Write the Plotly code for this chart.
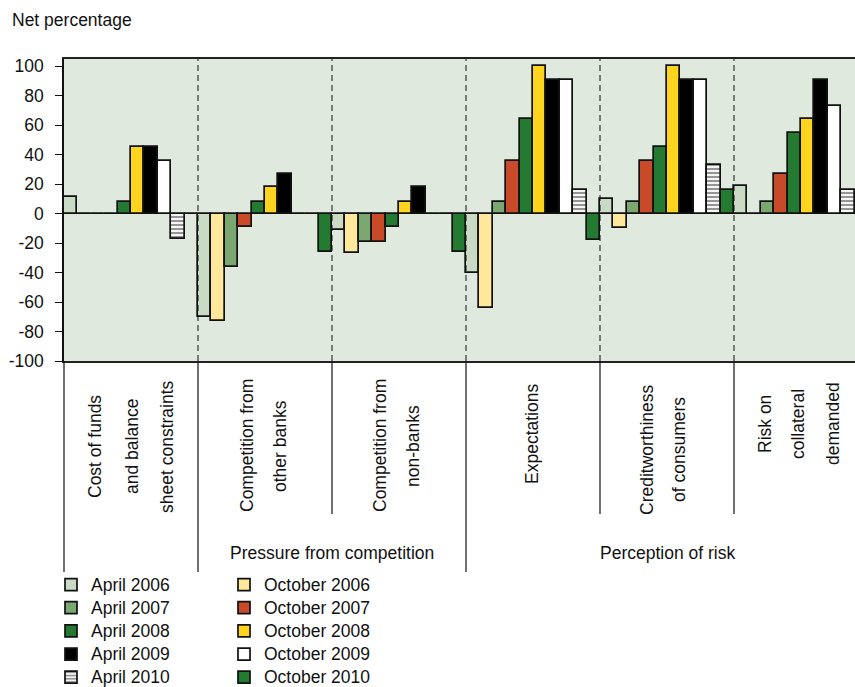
import plotly.graph_objects as go

# Survey factors (one group of bars per factor)
categories = [
    "Cost of funds and balance sheet constraints",
    "Competition from other banks",
    "Competition from non-banks",
    "Expectations",
    "Creditworthiness of consumers",
    "Risk on collateral demanded",
]

# Net percentages per survey round
apr_2006 = [11, -70, -11, -40, 10, 19]
oct_2006 = [0, -73, -27, -64, -10, 0]
apr_2007 = [0, -36, -19, 8, 8, 8]
oct_2007 = [0, -9, -19, 36, 36, 27]
apr_2008 = [8, 8, -9, 64, 45, 55]
oct_2008 = [45, 18, 8, 100, 100, 64]
apr_2009 = [45, 27, 18, 91, 91, 91]
oct_2009 = [36, 0, 0, 91, 91, 73]
apr_2010 = [-17, 0, 0, 16, 33, 16]
oct_2010 = [0, -26, -26, -18, 16, None]

y_ticks = [100, 80, 60, 40, 20, 0, -20, -40, -60, -80, -100]
y_tick_labels = ["100", "80", "60", "40", "20", "0",
                 "-20", "-40", "-60", "-80", "-100"]

label_lines = [
    ["Cost of funds", "and balance", "sheet constraints"],
    ["Competition from", "other banks"],
    ["Competition from", "non-banks"],
    ["Expectations"],
    ["Creditworthiness", "of consumers"],
    ["Risk on", "collateral", "demanded"],
]
group_titles = ["Pressure from competition", "Perception of risk"]

# ---- layout geometry (pixels) ----
W, H = 855, 687
ML, MT, MB = 64, 59, 326
PLOT_H = H - MT - MB
GROUP_PX = 134
X_RANGE = [-0.5, -0.5 + (W - ML) / GROUP_PX]


def py(pix):
    """pixel row -> paper y"""
    return (H - MB - pix) / PLOT_H


FONT = "Liberation Sans, Arial, sans-serif"
FS = 17.5
INK = "#111111"
DARK_GREEN = "#247A31"

series = [
    ("April 2006", apr_2006, dict(color="#C9DBC4"), "legend"),
    ("October 2006", oct_2006, dict(color="#FFE79B"), "legend2"),
    ("April 2007", apr_2007, dict(color="#7BA871"), "legend"),
    ("October 2007", oct_2007, dict(color="#C84A28"), "legend2"),
    ("April 2008", apr_2008, dict(color=DARK_GREEN), "legend"),
    ("October 2008", oct_2008, dict(color="#FFD41F"), "legend2"),
    ("April 2009", apr_2009, dict(color="#000000"), "legend"),
    ("October 2009", oct_2009, dict(color="#FFFFFF"), "legend2"),
    ("April 2010", apr_2010,
     dict(color="#FFFFFF",
          pattern=dict(shape="-", fgcolor="#2A2A2A", bgcolor="#FFFFFF",
                       size=4, solidity=0.55)), "legend"),
    ("October 2010", oct_2010, dict(color=DARK_GREEN), "legend2"),
]

fig = go.Figure()
for name, vals, marker, leg in series:
    m = dict(marker)
    m["line"] = dict(color=INK, width=1.7)
    fig.add_trace(go.Bar(
        x=categories, y=vals, marker=m, legend=leg,
        name=f'<span style="font-size:{FS}px">{name}</span>'))

shapes = []
# dashed separators inside the plot
for b in [0.5, 1.5, 2.5, 3.5, 4.5]:
    shapes.append(dict(type="line", xref="x", yref="paper", x0=b, x1=b,
                       y0=0, y1=1, line=dict(color=INK, width=1,
                                             dash="6px,4px"), layer="above"))
# solid separators in the label area below the plot
shapes.append(dict(type="line", xref="paper", yref="paper", x0=0, x1=0,
                   y0=py(572), y1=0, line=dict(color=INK, width=1.2)))
for b, bottom in [(0.5, 572), (1.5, 514), (2.5, 572), (3.5, 514), (4.5, 514)]:
    shapes.append(dict(type="line", xref="x", yref="paper", x0=b, x1=b,
                       y0=py(bottom), y1=0,
                       line=dict(color=INK, width=1.2)))

annotations = []
line_shift = [[-36, 1, 36], [-18, 15], [-19, 14], [-1], [-20, 12], [-36, -3, 32]]
label_center = [447, 446, 446, 434, 450, 424]
for gi, lines in enumerate(label_lines):
    for li, txt in enumerate(lines):
        annotations.append(dict(
            text=txt, x=gi, xref="x", y=py(label_center[gi]), yref="paper",
            xshift=line_shift[gi][li], textangle=-90, showarrow=False,
            xanchor="center", yanchor="middle",
            font=dict(family=FONT, size=FS, color=INK)))
annotations.append(dict(text=group_titles[0], x=1.5, xref="x", y=py(553),
                        yref="paper", showarrow=False, xanchor="center",
                        yanchor="middle",
                        font=dict(family=FONT, size=FS, color=INK)))
annotations.append(dict(text=group_titles[1], x=4.0, xref="x", y=py(553),
                        yref="paper", showarrow=False, xanchor="center",
                        yanchor="middle",
                        font=dict(family=FONT, size=FS, color=INK)))
annotations.append(dict(text="Net percentage", x=(10 - ML) / (W - ML),
                        xref="paper", y=py(20), yref="paper", showarrow=False,
                        xanchor="left", yanchor="middle",
                        font=dict(family=FONT, size=FS, color=INK)))

legend_style = dict(orientation="v", xref="container", yref="container",
                    yanchor="top", xanchor="left",
                    font=dict(family=FONT, size=15.5, color=INK),
                    bgcolor="rgba(0,0,0,0)", borderwidth=0, tracegroupgap=0,
                    itemwidth=30)

fig.update_layout(
    width=W, height=H,
    margin=dict(l=ML, r=0, t=MT, b=MB, pad=0, autoexpand=False),
    paper_bgcolor="white",
    plot_bgcolor="#E0E9DE",
    barmode="group", bargap=0, bargroupgap=0,
    showlegend=True,
    legend=dict(legend_style, x=51 / W, y=1 - 568 / H),
    legend2=dict(legend_style, x=224 / W, y=1 - 568 / H),
    xaxis=dict(range=X_RANGE, showticklabels=False, ticks="",
               showgrid=False, zeroline=False, showline=True, mirror=True,
               linecolor="#222222", linewidth=1.5),
    yaxis=dict(range=[-100, 105], tickvals=y_ticks, ticktext=y_tick_labels,
               ticks="outside", ticklen=7, tickcolor=INK, tickwidth=1,
               showgrid=False, zeroline=True, zerolinecolor="#555555",
               zerolinewidth=1, showline=True, linecolor=INK,
               linewidth=1.5, ticklabelstandoff=8,
               tickfont=dict(family=FONT, size=FS, color=INK)),
    shapes=shapes,
    annotations=annotations,
    font=dict(family=FONT, size=FS, color=INK),
)

fig.write_html("out.html")
